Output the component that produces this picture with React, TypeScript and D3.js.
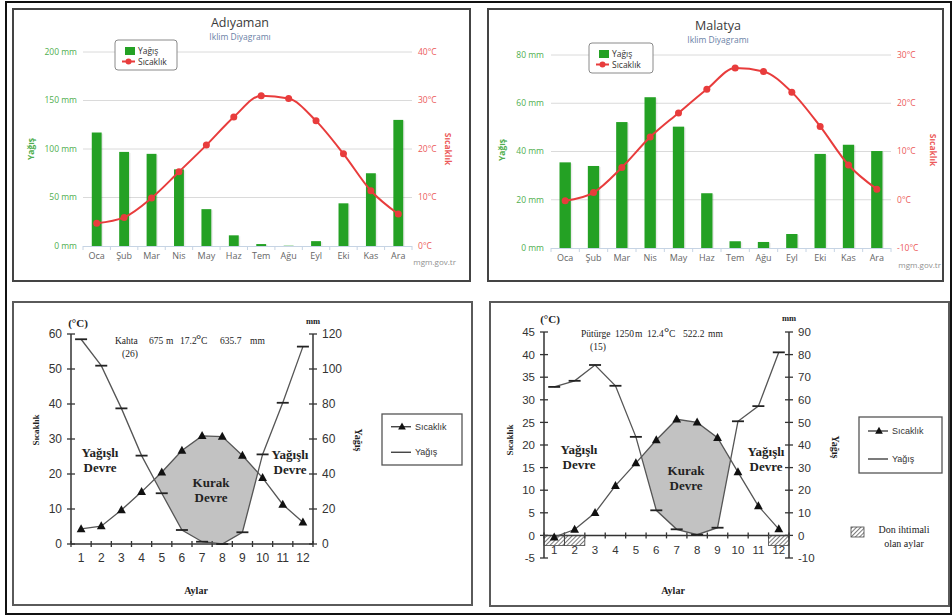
import React from "react";
import * as d3 from "d3";

// ---------- DATA ----------
const monthsTR = ["Oca", "Şub", "Mar", "Nis", "May", "Haz", "Tem", "Ağu", "Eyl", "Eki", "Kas", "Ara"];
const monthNums = ["1", "2", "3", "4", "5", "6", "7", "8", "9", "10", "11", "12"];

const adiyamanRain = [117, 97, 95, 79, 38, 11, 2, 0.3, 5, 44, 75, 130];
const adiyamanTemp = [4.7, 5.9, 9.9, 15.3, 20.8, 26.6, 31.0, 30.4, 25.8, 19.0, 11.4, 6.6];
const adiyamanRainTicks = [0, 50, 100, 150, 200];
const adiyamanTempTicks = [0, 10, 20, 30, 40];

const malatyaRain = [35.5, 34, 52.2, 62.5, 50.3, 22.7, 2.8, 2.5, 5.8, 39, 42.8, 40.2];
const malatyaTemp = [-0.2, 1.5, 6.7, 13.0, 18.0, 22.9, 27.3, 26.6, 22.3, 15.2, 7.2, 2.2];
const malatyaRainTicks = [0, 20, 40, 60, 80];
const malatyaTempTicks = [-10, 0, 10, 20, 30];

const kahtaTemp = [4.3, 5.1, 9.7, 14.9, 20.5, 26.7, 30.9, 30.7, 25.3, 18.9, 11.3, 6.2];
const kahtaRain = [117, 101.9, 77.5, 50.5, 29, 8, 1.3, 0, 6.7, 51.2, 80.7, 112.8];
const kahtaTempTicks = [0, 10, 20, 30, 40, 50, 60];
const kahtaRainTicks = [0, 20, 40, 60, 80, 100, 120];

const puturgeTemp = [-0.4, 1.3, 5.0, 11.0, 16.0, 21.1, 25.7, 25.0, 21.6, 14.0, 6.5, 1.4];
const puturgeRain = [65.7, 68.4, 75.4, 66.2, 43.6, 11.1, 2.7, 0.3, 3.4, 50.5, 57.2, 81.0];
const puturgeTempTicks = [-5, 0, 5, 10, 15, 20, 25, 30, 35, 40, 45];
const puturgeRainTicks = [-10, 0, 10, 20, 30, 40, 50, 60, 70, 80, 90];
const puturgeFrostMonths = ["1", "2", "12"];

// ---------- STYLE ----------
const hcFont = "'Open Sans', 'DejaVu Sans', sans-serif";
const serif = "'Liberation Serif', 'DejaVu Serif', serif";
const arial = "'Liberation Sans', Arial, sans-serif";
const green = "#24a124";
const greenText = "#4fae4f";
const red = "#e83c3c";
const redText = "#ec5a5a";

type HCProps = {
  title: string;
  rain: number[];
  temp: number[];
  rainTicks: number[];
  tempTicks: number[];
  x0: number; x1: number; yTop: number; yBot: number;
  pad: number;
  titleX: number; titleY: number;
  legX: number; legY: number; legW: number;
  leftLabX: number; rightLabX: number;
  yTitleX: number; tTitleX: number; axisTitleY: number;
  srcX: number; srcY: number;
  frame: [number, number, number, number];
};

function HCChart(p: HCProps) {
  const x = d3.scaleBand<string>().domain(monthsTR).range([p.x0, p.x1]).paddingInner(p.pad).paddingOuter(p.pad / 2);
  const bw = x.bandwidth();
  const cx = (i: number) => (x(monthsTR[i]) as number) + bw / 2;
  const yR = d3.scaleLinear().domain([p.rainTicks[0], p.rainTicks[p.rainTicks.length - 1]]).range([p.yBot, p.yTop]);
  const yT = d3.scaleLinear().domain([p.tempTicks[0], p.tempTicks[p.tempTicks.length - 1]]).range([p.yBot, p.yTop]);
  const line = d3.line<number>().x((d, i) => cx(i)).y((d) => yT(d)).curve(d3.curveMonotoneX);
  const step = x.step();
  return (
    <g>
      <rect x={p.frame[0]} y={p.frame[1]} width={p.frame[2]} height={p.frame[3]} fill="#fff" stroke="#444" strokeWidth={2} />
      {p.rainTicks.map((t, i) =>
        i === 0 ? null : (
          <line key={"g" + t} x1={p.x0} x2={p.x1} y1={yR(t)} y2={yR(t)} stroke="#dadada" strokeWidth={1} />
        )
      )}
      <line x1={p.x0} x2={p.x1} y1={p.yBot + 0.5} y2={p.yBot + 0.5} stroke="#c6d4e4" strokeWidth={1} />
      {d3.range(13).map((i) => (
        <line key={"xt" + i} x1={p.x0 + i * step} x2={p.x0 + i * step} y1={p.yBot} y2={p.yBot + 4} stroke="#c6d4e4" strokeWidth={1} />
      ))}
      {p.rainTicks.map((t) => (
        <text key={"lr" + t} x={p.leftLabX} y={yR(t)} dy="0.35em" textAnchor="end" fontSize={8.5} fill={greenText} fontFamily={hcFont}>
          {t} mm
        </text>
      ))}
      {p.tempTicks.map((t) => (
        <text key={"lt" + t} x={p.rightLabX} y={yT(t)} dy="0.35em" fontSize={8.5} fill={redText} fontFamily={hcFont}>
          {t}°C
        </text>
      ))}
      {p.rain.map((v, i) => (
        <g key={"b" + i}>
          <rect x={(x(monthsTR[i]) as number) + 1.5} y={yR(v) + 1} width={bw} height={Math.max(0, p.yBot - yR(v) - 1)} fill="#000" opacity={0.08} />
          <rect x={x(monthsTR[i]) as number} y={yR(v)} width={bw} height={p.yBot - yR(v)} fill={green} />
        </g>
      ))}
      <path d={line(p.temp) || ""} fill="none" stroke={red} strokeWidth={2} />
      {p.temp.map((v, i) => (
        <circle key={"c" + i} cx={cx(i)} cy={yT(v)} r={3.5} fill={red} />
      ))}
      {monthsTR.map((m, i) => (
        <text key={"m" + m} x={cx(i)} y={p.yBot + 13} textAnchor="middle" fontSize={9} fill="#666" fontFamily={hcFont}>
          {m}
        </text>
      ))}
      <text x={p.titleX} y={p.titleY} textAnchor="middle" fontSize={12.5} fill="#3a3a3a" fontFamily={hcFont}>
        {p.title}
      </text>
      <text x={p.titleX} y={p.titleY + 13} textAnchor="middle" fontSize={8.5} fill="#6a7fa6" fontFamily={hcFont}>
        Iklim Diyagramı
      </text>
      <g transform={`translate(${p.legX},${p.legY})`}>
        <rect x={0} y={0} width={p.legW} height={30} rx={3} fill="#fff" stroke="#8a8a8a" strokeWidth={1} />
        <rect x={10} y={7} width={10} height={8} fill={green} />
        <text x={23} y={14} fontSize={8.5} fill="#333" fontFamily={hcFont}>Yağış</text>
        <line x1={7} x2={20} y1={21.5} y2={21.5} stroke={red} strokeWidth={2} />
        <circle cx={13.5} cy={21.5} r={3} fill={red} />
        <text x={23} y={25} fontSize={8.5} fill="#333" fontFamily={hcFont}>Sıcaklık</text>
      </g>
      <text transform={`translate(${p.yTitleX},${p.axisTitleY}) rotate(-90)`} textAnchor="middle" fontSize={8.5} fontWeight="bold" fill={greenText} fontFamily={hcFont}>
        Yağış
      </text>
      <text transform={`translate(${p.tTitleX},${p.axisTitleY}) rotate(90)`} textAnchor="middle" fontSize={8.5} fontWeight="bold" fill={redText} fontFamily={hcFont}>
        Sıcaklık
      </text>
      <text x={p.srcX} y={p.srcY} textAnchor="end" fontSize={8} fill="#909090" fontFamily={hcFont}>
        mgm.gov.tr
      </text>
    </g>
  );
}

function dryPolys(xs: number[], yT: number[], yP: number[]) {
  const polys: [number, number][][] = [];
  let top: [number, number][] = [];
  let bot: [number, number][] = [];
  for (let i = 0; i < xs.length; i++) {
    const d = yP[i] - yT[i];
    if (i > 0) {
      const dp = yP[i - 1] - yT[i - 1];
      if (dp > 0 !== d > 0) {
        const t = dp / (dp - d);
        const xx = xs[i - 1] + t * (xs[i] - xs[i - 1]);
        const yy = yT[i - 1] + t * (yT[i] - yT[i - 1]);
        top.push([xx, yy]);
        bot.push([xx, yy]);
        if (!(d > 0)) {
          polys.push([...top, ...bot.reverse()]);
          top = [];
          bot = [];
        }
      }
    }
    if (d > 0) {
      top.push([xs[i], yT[i]]);
      bot.push([xs[i], yP[i]]);
    }
  }
  if (top.length) polys.push([...top, ...bot.reverse()]);
  return polys;
}

type WProps = {
  id: string;
  temp: number[]; rain: number[];
  tempTicks: number[]; rainTicks: number[];
  xL: number; xR: number; yTop: number; yBot: number;
  frame: [number, number, number, number];
  header: string[];
  hx: number[]; hy: number;
  stationNo: string; noX: number;
  degX: number; degY: number; mmY: number;
  tTitle: [number, number]; pTitle: [number, number];
  aylarX: number; aylarY: number; monthLabY: number;
  wet1: [number, number]; wet2: [number, number]; kurak: [number, number];
  leg: [number, number, number, number];
  frost?: string[];
  frostLeg?: [number, number];
  fs: number;
};

function Triangle({ x, y, s }: { x: number; y: number; s: number }) {
  const pts = [[x, y - s * 0.6], [x - s * 0.55, y + s * 0.4], [x + s * 0.55, y + s * 0.4]];
  return <polygon points={pts.map((q) => q.join(",")).join(" ")} fill="#111" />;
}

function WalterChart(p: WProps) {
  const x = d3.scaleBand<string>().domain(monthNums).range([p.xL, p.xR]);
  const cx = (i: number) => (x(monthNums[i]) as number) + x.bandwidth() / 2;
  const yT = d3.scaleLinear().domain([p.tempTicks[0], p.tempTicks[p.tempTicks.length - 1]]).range([p.yBot, p.yTop]);
  const yP = d3.scaleLinear().domain([p.rainTicks[0], p.rainTicks[p.rainTicks.length - 1]]).range([p.yBot, p.yTop]);
  const xs = p.temp.map((_, i) => cx(i));
  const tY = p.temp.map((v) => yT(v));
  const pY = p.rain.map((v) => yP(v));
  const polys = dryPolys(xs, tY, pY);
  const lineT = d3.line<number>().x((d, i) => xs[i]).y((d) => yT(d));
  const lineP = d3.line<number>().x((d, i) => xs[i]).y((d) => yP(d));
  const y0 = yT(0);
  const lc = "#555";
  const hid = "hatch-" + p.id;
  return (
    <g>
      <defs>
        <pattern id={hid} width={3} height={3} patternUnits="userSpaceOnUse" patternTransform="rotate(45)">
          <line x1={0} y1={0} x2={0} y2={3} stroke="#222" strokeWidth={1.2} />
        </pattern>
      </defs>
      <rect x={p.frame[0]} y={p.frame[1]} width={p.frame[2]} height={p.frame[3]} fill="#fff" stroke="#5a5a5a" strokeWidth={2} />
      {polys.map((poly, k) => (
        <polygon key={"dry" + k} points={poly.map((q) => q.join(",")).join(" ")} fill="#c2c2c2" />
      ))}
      {/* axes */}
      <line x1={p.xL} x2={p.xL} y1={p.yTop} y2={p.yBot} stroke="#333" strokeWidth={1.5} />
      <line x1={p.xR} x2={p.xR} y1={p.yTop} y2={p.yBot} stroke="#333" strokeWidth={1.5} />
      <line x1={p.xL} x2={p.xR} y1={y0} y2={y0} stroke="#333" strokeWidth={1.5} />
      {p.tempTicks.map((t) => (
        <g key={"tt" + t}>
          <line x1={p.xL - 4} x2={p.xL + 4} y1={yT(t)} y2={yT(t)} stroke="#333" strokeWidth={1.3} />
          <text x={p.xL - 9} y={yT(t)} dy="0.36em" textAnchor="end" fontSize={p.fs} fill="#333" fontFamily={arial}>
            {t}
          </text>
        </g>
      ))}
      {p.rainTicks.map((t) => (
        <g key={"pt" + t}>
          <line x1={p.xR - 4} x2={p.xR + 4} y1={yP(t)} y2={yP(t)} stroke="#333" strokeWidth={1.3} />
          <text x={p.xR + 9} y={yP(t)} dy="0.36em" fontSize={p.fs} fill="#333" fontFamily={arial}>
            {t}
          </text>
        </g>
      ))}
      {d3.range(13).map((i) => (
        <line key={"xt" + i} x1={p.xL + i * x.step()} x2={p.xL + i * x.step()} y1={y0 - 3} y2={y0 + 3} stroke="#333" strokeWidth={1.3} />
      ))}
      {(p.frost || []).map((m) => (
        <rect key={"fr" + m} x={x(m) as number} y={y0} width={x.bandwidth()} height={10} fill={`url(#${hid})`} stroke="#444" strokeWidth={0.8} />
      ))}
      {monthNums.map((m, i) => (
        <text key={"ml" + m} x={cx(i)} y={p.monthLabY} dy="0.36em" textAnchor="middle" fontSize={p.fs} fill="#333" fontFamily={arial}>
          {m}
        </text>
      ))}
      {/* lines */}
      <path d={lineP(p.rain) || ""} fill="none" stroke={lc} strokeWidth={1.3} />
      <path d={lineT(p.temp) || ""} fill="none" stroke={lc} strokeWidth={1.3} />
      {p.rain.map((v, i) => (
        <line key={"pm" + i} x1={xs[i] - 6} x2={xs[i] + 6} y1={yP(v)} y2={yP(v)} stroke="#222" strokeWidth={1.8} />
      ))}
      {p.temp.map((v, i) => (
        <Triangle key={"tm" + i} x={xs[i]} y={yT(v)} s={8} />
      ))}
      {/* texts */}
      <text x={p.degX} y={p.degY} textAnchor="middle" fontSize={11} fontWeight="bold" fill="#222" fontFamily={serif}>(°C)</text>
      <text x={p.xR} y={p.mmY} textAnchor="middle" fontSize={8.5} fontWeight="bold" fill="#222" fontFamily={serif}>mm</text>
      {p.header.map((h, k) => (
        <text key={"h" + k} x={p.hx[k]} y={h === "°" ? p.hy - 1 : p.hy} fontSize={h === "°" ? 13 : 9.5} fontWeight={h === "°" ? "bold" : "normal"} fill="#222" fontFamily={serif}>
          {h}
        </text>
      ))}
      <text x={p.noX} y={p.hy + 13} fontSize={9.5} fill="#222" fontFamily={serif}>({p.stationNo})</text>
      <text transform={`translate(${p.tTitle[0]},${p.tTitle[1]}) rotate(-90)`} textAnchor="middle" fontSize={9} fontWeight="bold" fill="#222" fontFamily={serif}>
        Sıcaklık
      </text>
      <text transform={`translate(${p.pTitle[0]},${p.pTitle[1]}) rotate(90)`} textAnchor="middle" fontSize={10} fontWeight="bold" fill="#222" fontFamily={serif}>
        Yağış
      </text>
      <text x={p.aylarX} y={p.aylarY} textAnchor="middle" fontSize={10} fontWeight="bold" fill="#222" fontFamily={serif}>Aylar</text>
      {[p.wet1, p.wet2].map((w, k) => (
        <g key={"wet" + k}>
          <text x={w[0]} y={w[1]} textAnchor="middle" fontSize={13} fontWeight="bold" fill="#222" fontFamily={serif}>Yağışlı</text>
          <text x={w[0]} y={w[1] + 15} textAnchor="middle" fontSize={13} fontWeight="bold" fill="#222" fontFamily={serif}>Devre</text>
        </g>
      ))}
      <text x={p.kurak[0]} y={p.kurak[1]} textAnchor="middle" fontSize={13} fontWeight="bold" fill="#222" fontFamily={serif}>Kurak</text>
      <text x={p.kurak[0]} y={p.kurak[1] + 15} textAnchor="middle" fontSize={13} fontWeight="bold" fill="#222" fontFamily={serif}>Devre</text>
      {/* legend */}
      <g>
        <rect x={p.leg[0]} y={p.leg[1]} width={p.leg[2]} height={p.leg[3]} fill="#fff" stroke="#555" strokeWidth={1.3} />
        <line x1={p.leg[0] + 9} x2={p.leg[0] + 29} y1={p.leg[1] + p.leg[3] * 0.25} y2={p.leg[1] + p.leg[3] * 0.25} stroke="#333" strokeWidth={1.3} />
        <Triangle x={p.leg[0] + 20} y={p.leg[1] + p.leg[3] * 0.25} s={7} />
        <text x={p.leg[0] + 33} y={p.leg[1] + p.leg[3] * 0.25} dy="0.35em" fontSize={9} fill="#333" fontFamily={arial}>Sıcaklık</text>
        <line x1={p.leg[0] + 9} x2={p.leg[0] + 29} y1={p.leg[1] + p.leg[3] * 0.75} y2={p.leg[1] + p.leg[3] * 0.75} stroke="#333" strokeWidth={1.3} />
        <text x={p.leg[0] + 33} y={p.leg[1] + p.leg[3] * 0.75} dy="0.35em" fontSize={9} fill="#333" fontFamily={arial}>Yağış</text>
      </g>
      {p.frostLeg ? (
        <g>
          <rect x={p.frostLeg[0]} y={p.frostLeg[1]} width={13} height={10} fill={`url(#${hid})`} stroke="#444" strokeWidth={0.8} />
          <text x={p.frostLeg[0] + 53} y={p.frostLeg[1] + 6} textAnchor="middle" fontSize={10} fill="#222" fontFamily={serif}>Don ihtimali</text>
          <text x={p.frostLeg[0] + 53} y={p.frostLeg[1] + 20} textAnchor="middle" fontSize={10} fill="#222" fontFamily={serif}>olan aylar</text>
        </g>
      ) : null}
    </g>
  );
}

export default function App() {
  return (
    <svg width={952} height={616} style={{ position: "absolute", left: 0, top: 0, background: "#fff" }}>
      <rect x={0} y={0} width={952} height={616} fill="#fff" />
      <path d="M6,614 V2 H951 V614 Z" fill="none" stroke="#111" strokeWidth={2} />
      <HCChart
        title="Adıyaman"
        rain={adiyamanRain}
        temp={adiyamanTemp}
        rainTicks={adiyamanRainTicks}
        tempTicks={adiyamanTempTicks}
        x0={83} x1={412} yTop={52} yBot={246}
        pad={0.64}
        titleX={240} titleY={27}
        legX={115} legY={40} legW={62}
        leftLabX={77} rightLabX={418}
        yTitleX={34} tTitleX={445} axisTitleY={149}
        srcX={456} srcY={265}
        frame={[13, 9, 457, 272]}
      />
      <HCChart
        title="Malatya"
        rain={malatyaRain}
        temp={malatyaTemp}
        rainTicks={malatyaRainTicks}
        tempTicks={malatyaTempTicks}
        x0={551} x1={891} yTop={55} yBot={248}
        pad={0.6}
        titleX={718} titleY={30}
        legX={589} legY={43} legW={64}
        leftLabX={544} rightLabX={897}
        yTitleX={505} tTitleX={930} axisTitleY={150}
        srcX={941} srcY={268}
        frame={[488, 9, 455, 272]}
      />
      <WalterChart
        id="kahta"
        temp={kahtaTemp}
        rain={kahtaRain}
        tempTicks={kahtaTempTicks}
        rainTicks={kahtaRainTicks}
        xL={71} xR={313} yTop={334} yBot={544}
        frame={[13, 302, 459, 303]}
        header={["Kahta", "675", "m", "17.2", "°", "C", "635.7", "mm"]}
        hx={[115, 149, 166, 180, 196, 201, 220, 250]} hy={344}
        stationNo="26" noX={122}
        degX={78} degY={327} mmY={324}
        tTitle={[39, 430]} pTitle={[355, 440]}
        aylarX={196} aylarY={594} monthLabY={558}
        wet1={[100, 457]} wet2={[290, 459]} kurak={[211, 487]}
        leg={[382, 414, 80, 51]}
        fs={12}
      />
      <WalterChart
        id="puturge"
        temp={puturgeTemp}
        rain={puturgeRain}
        tempTicks={puturgeTempTicks}
        rainTicks={puturgeRainTicks}
        xL={544} xR={789} yTop={332} yBot={558}
        frame={[490, 302, 459, 304]}
        header={["Pütürge", "1250", "m", "12.4", "°", "C", "522.2", "mm"]}
        hx={[581, 615, 635, 647, 664, 669, 683, 708]} hy={337}
        stationNo="15" noX={590}
        degX={550} degY={323} mmY={321}
        tTitle={[513, 440]} pTitle={[832, 447]}
        aylarX={673} aylarY={594} monthLabY={550}
        wet1={[579, 454]} wet2={[766, 456]} kurak={[686, 475]}
        leg={[859, 417, 83, 56]}
        frost={puturgeFrostMonths}
        frostLeg={[851, 527]}
        fs={11.5}
      />
    </svg>
  );
}
